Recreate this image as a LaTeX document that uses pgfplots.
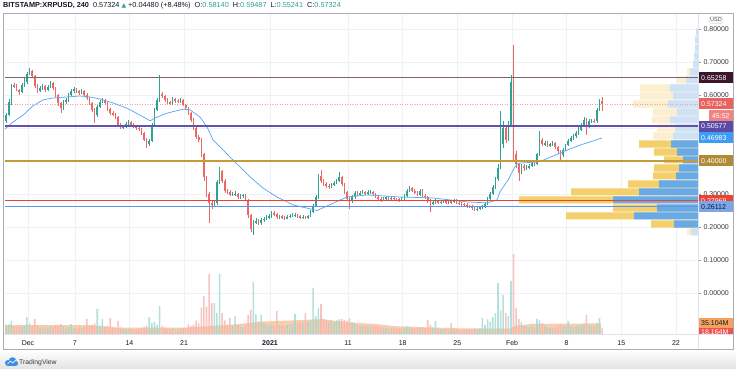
\documentclass[border=0pt]{standalone}
\usepackage{fontspec}
\setmainfont{Liberation Sans}
\newfontfamily\dejavu{DejaVu Sans}
\usepackage{pgfplots}
\usepackage{pgfplotstable}
\pgfplotsset{compat=1.18}
\definecolor{upc}{HTML}{2FA294}
\definecolor{dnc}{HTML}{EB6864}
\definecolor{volup}{HTML}{9ED6CF}
\definecolor{voldn}{HTML}{F6B0AC}
\definecolor{volma}{HTML}{F7C6A2}
\definecolor{gridc}{HTML}{F0F1F4}
\definecolor{hdr}{HTML}{131722}
\definecolor{tickc}{HTML}{9598A1}
\definecolor{mac}{HTML}{5EA8F0}
\definecolor{lmaroon}{HTML}{7E6272}
\definecolor{bmaroon}{HTML}{3C1528}
\definecolor{lpurple}{HTML}{6252B0}
\definecolor{bpurple}{HTML}{5B4BA6}
\definecolor{lgold}{HTML}{C49B3A}
\definecolor{lred}{HTML}{F0402F}
\definecolor{lblue}{HTML}{5D93E8}
\definecolor{bblue}{HTML}{7AA6EC}
\definecolor{bma}{HTML}{3D9CF4}
\definecolor{bcur}{HTML}{E8625E}
\definecolor{btime}{HTML}{F08484}
\definecolor{curl}{HTML}{F3A0A0}
\definecolor{dyel}{HTML}{F4D06C}
\definecolor{lyel}{HTML}{FCEFCF}
\definecolor{dblu}{HTML}{68A9E8}
\definecolor{lblu}{HTML}{CDE2F7}
\definecolor{bvol}{HTML}{F4A25F}
\definecolor{bvol2}{HTML}{EF5350}
\definecolor{frame}{HTML}{A9ACB3}
\definecolor{sep}{HTML}{E0E3EB}
\definecolor{tvblue}{HTML}{3A8EE6}

\pgfplotstableread{
o h l c v
0.520 0.546 0.514 0.540 30
0.540 0.588 0.536 0.580 32
0.580 0.634 0.571 0.630 43
0.630 0.636 0.620 0.625 25
0.625 0.633 0.611 0.615 22
0.615 0.619 0.601 0.610 28
0.610 0.636 0.605 0.630 24
0.630 0.650 0.624 0.640 30
0.640 0.670 0.634 0.665 56
0.665 0.682 0.660 0.672 35
0.672 0.676 0.652 0.658 27
0.658 0.661 0.620 0.628 50
0.628 0.633 0.606 0.612 29
0.612 0.628 0.608 0.620 20
0.620 0.632 0.614 0.626 18
0.626 0.630 0.609 0.615 24
0.615 0.631 0.611 0.624 21
0.624 0.641 0.620 0.636 26
0.636 0.640 0.615 0.620 23
0.620 0.624 0.594 0.600 30
0.600 0.604 0.568 0.575 28
0.575 0.580 0.545 0.560 33
0.560 0.586 0.556 0.580 25
0.580 0.592 0.574 0.584 18
0.584 0.606 0.579 0.600 22
0.600 0.618 0.596 0.612 33
0.612 0.625 0.607 0.618 20
0.618 0.622 0.606 0.612 17
0.612 0.616 0.600 0.606 22
0.606 0.619 0.602 0.612 19
0.612 0.615 0.595 0.600 24
0.600 0.605 0.584 0.590 50
0.590 0.594 0.570 0.575 27
0.575 0.579 0.548 0.555 30
0.555 0.560 0.515 0.538 35
0.538 0.570 0.533 0.565 83
0.565 0.586 0.561 0.580 28
0.580 0.592 0.576 0.585 50
0.585 0.589 0.570 0.575 24
0.575 0.578 0.553 0.558 26
0.558 0.562 0.540 0.545 53
0.545 0.550 0.535 0.540 22
0.540 0.544 0.527 0.532 20
0.532 0.535 0.505 0.510 43
0.510 0.514 0.496 0.502 22
0.502 0.509 0.497 0.504 15
0.504 0.517 0.500 0.512 14
0.512 0.523 0.508 0.518 16
0.518 0.521 0.505 0.510 18
0.510 0.514 0.501 0.506 13
0.506 0.510 0.495 0.500 16
0.500 0.504 0.491 0.497 15
0.497 0.500 0.480 0.485 20
0.485 0.488 0.460 0.465 24
0.465 0.470 0.440 0.450 28
0.450 0.468 0.446 0.462 56
0.462 0.515 0.458 0.510 36
0.510 0.560 0.506 0.555 40
0.555 0.590 0.550 0.585 30
0.585 0.660 0.580 0.604 92
0.604 0.610 0.590 0.596 28
0.596 0.600 0.580 0.585 22
0.585 0.590 0.572 0.578 18
0.578 0.583 0.569 0.575 16
0.575 0.594 0.571 0.588 20
0.588 0.592 0.577 0.582 15
0.582 0.587 0.575 0.580 14
0.580 0.591 0.576 0.585 17
0.585 0.589 0.566 0.570 19
0.570 0.574 0.555 0.560 21
0.560 0.564 0.540 0.545 33
0.545 0.548 0.519 0.525 26
0.525 0.530 0.494 0.500 30
0.500 0.505 0.466 0.472 43
0.472 0.480 0.458 0.465 35
0.465 0.470 0.412 0.420 86
0.420 0.425 0.340 0.350 125
0.350 0.356 0.290 0.300 90
0.300 0.306 0.212 0.272 198
0.272 0.282 0.255 0.268 102
0.268 0.280 0.262 0.272 102
0.272 0.342 0.268 0.335 70
0.335 0.382 0.330 0.370 198
0.370 0.374 0.334 0.340 69
0.340 0.345 0.304 0.310 45
0.310 0.316 0.300 0.306 30
0.306 0.311 0.293 0.298 53
0.298 0.306 0.293 0.300 28
0.300 0.308 0.294 0.300 59
0.300 0.304 0.285 0.290 30
0.290 0.300 0.286 0.295 25
0.295 0.301 0.289 0.296 22
0.296 0.300 0.278 0.282 30
0.282 0.286 0.228 0.235 63
0.235 0.240 0.186 0.195 79
0.195 0.221 0.176 0.215 172
0.215 0.226 0.209 0.218 66
0.218 0.224 0.206 0.212 40
0.212 0.228 0.207 0.222 63
0.222 0.231 0.216 0.225 35
0.225 0.236 0.220 0.230 30
0.230 0.238 0.225 0.232 28
0.232 0.248 0.228 0.242 32
0.242 0.247 0.233 0.238 27
0.238 0.243 0.225 0.230 76
0.230 0.237 0.225 0.232 30
0.232 0.236 0.223 0.228 28
0.228 0.233 0.222 0.227 26
0.227 0.235 0.223 0.230 29
0.230 0.239 0.226 0.234 31
0.234 0.241 0.230 0.236 34
0.236 0.242 0.231 0.236 66
0.236 0.240 0.228 0.233 36
0.233 0.237 0.225 0.230 38
0.230 0.235 0.224 0.230 35
0.230 0.234 0.223 0.228 69
0.228 0.237 0.224 0.232 40
0.232 0.250 0.229 0.245 45
0.245 0.270 0.241 0.265 152
0.265 0.296 0.262 0.290 60
0.290 0.362 0.286 0.355 86
0.355 0.373 0.334 0.340 99
0.340 0.346 0.324 0.330 50
0.330 0.336 0.319 0.325 44
0.325 0.331 0.316 0.322 42
0.322 0.334 0.318 0.328 46
0.328 0.339 0.323 0.333 40
0.333 0.346 0.329 0.340 45
0.340 0.367 0.336 0.352 48
0.352 0.356 0.325 0.330 50
0.330 0.334 0.299 0.305 46
0.305 0.309 0.278 0.285 44
0.285 0.290 0.255 0.278 52
0.278 0.296 0.273 0.290 38
0.290 0.308 0.286 0.303 35
0.303 0.308 0.293 0.298 30
0.298 0.309 0.294 0.303 28
0.303 0.312 0.299 0.306 27
0.306 0.310 0.297 0.302 29
0.302 0.311 0.298 0.305 25
0.305 0.312 0.301 0.306 26
0.306 0.310 0.296 0.300 24
0.300 0.304 0.287 0.292 27
0.292 0.296 0.280 0.285 25
0.285 0.290 0.277 0.282 22
0.282 0.292 0.278 0.287 20
0.287 0.295 0.283 0.290 21
0.290 0.294 0.281 0.286 18
0.286 0.293 0.282 0.288 19
0.288 0.292 0.280 0.285 17
0.285 0.289 0.278 0.283 20
0.283 0.288 0.277 0.282 18
0.282 0.290 0.278 0.285 16
0.285 0.300 0.281 0.295 22
0.295 0.315 0.291 0.310 25
0.310 0.324 0.305 0.318 24
0.318 0.322 0.305 0.310 20
0.310 0.315 0.300 0.305 18
0.305 0.309 0.293 0.298 19
0.298 0.315 0.294 0.310 21
0.310 0.314 0.290 0.295 22
0.295 0.299 0.285 0.290 20
0.290 0.294 0.274 0.280 46
0.280 0.285 0.245 0.273 30
0.273 0.281 0.268 0.275 22
0.275 0.284 0.271 0.278 43
0.278 0.283 0.271 0.276 18
0.276 0.281 0.271 0.276 16
0.276 0.283 0.272 0.278 15
0.278 0.282 0.270 0.275 16
0.275 0.282 0.271 0.277 14
0.277 0.281 0.271 0.276 36
0.276 0.285 0.272 0.280 17
0.280 0.284 0.269 0.274 15
0.274 0.279 0.268 0.272 14
0.272 0.276 0.265 0.270 13
0.270 0.274 0.263 0.268 14
0.268 0.272 0.259 0.264 16
0.264 0.268 0.257 0.262 15
0.262 0.266 0.253 0.258 17
0.258 0.262 0.247 0.252 18
0.252 0.260 0.248 0.255 16
0.255 0.265 0.251 0.260 19
0.260 0.268 0.256 0.263 53
0.263 0.276 0.259 0.270 30
0.270 0.290 0.266 0.285 50
0.285 0.306 0.281 0.300 40
0.300 0.326 0.296 0.320 56
0.320 0.352 0.316 0.345 69
0.345 0.390 0.340 0.380 168
0.380 0.550 0.375 0.450 80
0.450 0.520 0.440 0.500 129
0.500 0.510 0.455 0.465 69
0.465 0.520 0.460 0.510 60
0.510 0.660 0.505 0.640 175
0.640 0.752 0.400 0.420 264
0.420 0.430 0.380 0.390 86
0.390 0.395 0.340 0.365 50
0.365 0.392 0.360 0.385 40
0.385 0.390 0.370 0.378 28
0.378 0.387 0.372 0.380 24
0.380 0.392 0.375 0.386 22
0.386 0.401 0.381 0.395 25
0.395 0.400 0.386 0.392 20
0.392 0.425 0.388 0.420 50
0.420 0.490 0.416 0.465 45
0.465 0.470 0.444 0.450 35
0.450 0.462 0.445 0.455 28
0.455 0.460 0.442 0.448 22
0.448 0.456 0.443 0.450 20
0.450 0.461 0.446 0.455 19
0.455 0.459 0.437 0.442 21
0.442 0.446 0.424 0.430 24
0.430 0.434 0.400 0.418 30
0.418 0.438 0.413 0.433 26
0.433 0.453 0.429 0.448 25
0.448 0.468 0.444 0.462 43
0.462 0.476 0.457 0.470 24
0.470 0.482 0.465 0.475 22
0.475 0.491 0.470 0.485 26
0.485 0.502 0.480 0.495 28
0.495 0.516 0.490 0.510 30
0.510 0.532 0.505 0.525 34
0.525 0.530 0.480 0.505 63
0.505 0.526 0.500 0.520 30
0.520 0.528 0.515 0.522 26
0.522 0.527 0.514 0.520 25
0.520 0.561 0.516 0.555 35
0.555 0.588 0.551 0.5814 53
0.5814 0.59487 0.55241 0.57324 18.164
}\candles

\pgfplotsset{base/.style={scale only axis, width=693pt, height=321pt,
  at={(5pt,35pt)}, anchor=south west, xmin=-2.946, xmax=85.82},
  candle/.style 2 args={draw=none, mark=none, forget plot,
  error bars/y dir=both, error bars/y explicit, error bars/error mark=none,
  error bars/error bar style={draw=#1, line width=#2}}}
\tikzset{pbox/.style={anchor=west, minimum height=11pt, text width=29pt,
  inner xsep=3pt, inner ysep=0pt, font=\fontsize{7}{8}\selectfont, text=white, align=left}}

\begin{document}
\begin{tikzpicture}[x=1pt,y=1pt]
\useasboundingbox (0,0) rectangle (736,369);
\fill[white] (0,0) rectangle (736,369);
\shade[top color=white, bottom color=black!11] (0,0) rectangle (736,19);

% grid
\begin{axis}[base, ymin=-0.12424, ymax=0.84848,
  xtick={0,6,13,20,31,41,48,55,62,69,76,83},
  ytick={0,0.1,0.2,0.3,0.4,0.5,0.6,0.7,0.8},
  grid=major, grid style={draw=gridc, line width=0.6pt},
  xticklabels={}, yticklabels={}, axis line style={draw=none}, major tick length=0pt]
\addplot[draw=none] coordinates {(0,0)};
\end{axis}

% volume
\begin{axis}[base, ymin=0, ymax=1060, hide axis, clip mode=individual]
\addplot[fill=volma, draw=none, fill opacity=0.85] coordinates {
(-2.95,29) (2,29) (8.07,29) (10,25) (11.53,21) (15,21) (20.24,21) (23,26)
(26.77,32) (29.84,41) (34,45) (37.66,49) (39.45,43) (42,37) (44.45,33)
(47.01,26) (51,22) (55.08,19) (58,18) (61.74,17.5) (62.25,26) (64.3,33)
(68,34) (73.4,35.104)} \closedcycle;
\addplot[ybar, bar width=0.2, bar shift=0pt, draw=none, fill=volup, fill opacity=0.75,
  restrict expr to domain={\thisrow{c}-\thisrow{o}}{0:1}]
  table[x expr=-2.8+\coordindex/3, y=v]{\candles};
\addplot[ybar, bar width=0.2, bar shift=0pt, draw=none, fill=voldn, fill opacity=0.75,
  restrict expr to domain={\thisrow{c}-\thisrow{o}}{-1:-0.0000001}]
  table[x expr=-2.8+\coordindex/3, y=v]{\candles};
\begin{scope}
\clip (axis cs:85.82,0) rectangle (axis cs:95,1060);
\node[pbox, minimum height=9.5pt, fill=bvol2, yshift=-4pt] at (axis cs:85.82,18.164) {18.164M};
\end{scope}
\node[pbox, minimum height=10pt, fill=bvol, text=hdr] at (axis cs:85.82,35.104) {35.104M};
\end{axis}

% volume profile
\begin{axis}[base, xmin=0, xmax=693, x dir=reverse, ymin=-0.12424, ymax=0.84848, hide axis]
\addplot[xbar, bar width=0.0215, bar shift=0pt, draw=none, fill=lyel] coordinates {
(11,0.1850) (45,0.4759) (41,0.5001) (46,0.5244) (45,0.5486) (65,0.5728)
(58,0.5971) (58,0.6213) (21,0.6456) (11,0.6698)};
\addplot[xbar, bar width=0.0215, bar shift=0pt, draw=none, fill=dyel] coordinates {
(47,0.2092) (132,0.2335) (85,0.2577) (179,0.2820) (127,0.3062) (70,0.3304)
(45,0.3547) (44,0.3789) (34,0.4032) (44,0.4274) (59,0.4516)};
\addplot[xbar, bar width=0.0215, bar shift=0pt, draw=none, fill=dblu] coordinates {
(24,0.2092) (64,0.2335) (41,0.2577) (85,0.2820) (59,0.3062) (39,0.3304)
(22,0.3547) (19,0.3789) (15,0.4032) (21,0.4274) (27,0.4516)};
\addplot[xbar, bar width=0.0215, bar shift=0pt, draw=none, fill=lblu] coordinates {
(7,0.1850) (25,0.4759) (23,0.5001) (28,0.5244) (21,0.5486) (30,0.5728)
(25,0.5971) (28,0.6213) (12,0.6456) (8,0.6698) (5,0.6940) (4,0.7183)
(3,0.7425) (3,0.7668) (2,0.7910)};
\end{axis}

% price pane
\begin{axis}[base, ymin=-0.12424, ymax=0.84848, clip mode=individual,
  axis line style={draw=none},
  xtick={0,6,13,20,31,41,48,55,62,69,76,83},
  xticklabels={Dec,7,14,21,\textbf{2021},11,18,25,Feb,8,15,22},
  x tick style={draw=none},
  xticklabel style={font=\fontsize{7}{8}\selectfont, text=hdr},
  ytick={0,0.1,0.2,0.3,0.6,0.7,0.8},
  ytick pos=right, yticklabel pos=right, tick align=outside,
  major tick length=3pt,
  y tick style={draw=tickc, line width=0.4pt},
  yticklabel style={font=\fontsize{7}{8}\selectfont, text=hdr!85, anchor=west, xshift=-1pt,
    /pgf/number format/.cd, fixed, fixed zerofill, precision=5, assume math mode=true}]
% current price dotted
\addplot[curl, line width=0.6pt, dash pattern=on 1pt off 1.5pt] coordinates {(-3,0.57324) (86,0.57324)};
% candles up
\addplot[restrict expr to domain={\thisrow{c}-\thisrow{o}}{0:1}, candle={upc}{0.45pt}]
  table[x expr=-2.8+\coordindex/3, y expr=(\thisrow{h}+\thisrow{l})/2,
        y error expr=(\thisrow{h}-\thisrow{l})/2]{\candles};
\addplot[restrict expr to domain={\thisrow{c}-\thisrow{o}}{0:1}, candle={upc}{1.6pt}]
  table[x expr=-2.8+\coordindex/3, y expr=(\thisrow{o}+\thisrow{c})/2,
        y error expr={max(abs(\thisrow{c}-\thisrow{o})/2,0.0012)}]{\candles};
% candles down
\addplot[restrict expr to domain={\thisrow{c}-\thisrow{o}}{-1:-0.0000001}, candle={dnc}{0.45pt}]
  table[x expr=-2.8+\coordindex/3, y expr=(\thisrow{h}+\thisrow{l})/2,
        y error expr=(\thisrow{h}-\thisrow{l})/2]{\candles};
\addplot[restrict expr to domain={\thisrow{c}-\thisrow{o}}{-1:-0.0000001}, candle={dnc}{1.6pt}]
  table[x expr=-2.8+\coordindex/3, y expr=(\thisrow{o}+\thisrow{c})/2,
        y error expr={max(abs(\thisrow{c}-\thisrow{o})/2,0.0012)}]{\candles};
% moving average
\addplot[mac, line width=0.75pt] coordinates {
(-2.95,0.497) (-1.92,0.518) (-0.64,0.539) (0.64,0.567) (1.92,0.585) (3.20,0.591)
(5.00,0.594) (6.66,0.597) (7.94,0.594) (9.22,0.588) (10.89,0.576) (12.68,0.560)
(14.35,0.539) (15.63,0.522) (16.52,0.533) (17.80,0.545) (19.85,0.557) (20.75,0.555)
(22.03,0.533) (22.93,0.503) (23.70,0.464) (24.59,0.443) (25.87,0.412) (27.16,0.382)
(28.44,0.352) (30.10,0.318) (31.89,0.291) (33.94,0.267) (36.12,0.255) (37.02,0.250)
(39.07,0.272) (40.86,0.291) (43.42,0.297) (47.65,0.291) (51.88,0.288) (56.23,0.276)
(58.79,0.273) (60.07,0.282) (60.46,0.307) (61.48,0.342) (62.38,0.383) (62.76,0.393)
(65.58,0.398) (68.53,0.428) (70.71,0.448) (73.52,0.4698)};
% horizontal levels
\addplot[lmaroon, line width=1.6pt] coordinates {(-3,0.65258) (86,0.65258)};
\addplot[lpurple, line width=1.6pt] coordinates {(-3,0.50577) (86,0.50577)};
\addplot[lgold, line width=1.2pt] coordinates {(-3,0.40000) (86,0.40000)};
\addplot[lred, line width=1.4pt] coordinates {(-3,0.27969) (86,0.27969)};
\addplot[lblue, line width=1.1pt] coordinates {(-3,0.26112) (86,0.26112)};
% price boxes
\node[pbox, fill=bmaroon] at (axis cs:85.82,0.65258) {0.65258};
\node[pbox, fill=bcur] at (axis cs:85.82,0.57324) {0.57324};
\node[anchor=east, minimum height=11pt, text width=20pt, inner xsep=2pt, inner ysep=0pt,
  font=\fontsize{7}{8}\selectfont, text=white, align=center, fill=btime, xshift=35pt]
  at (axis cs:85.82,0.5365) {45:52};
\node[pbox, fill=bpurple] at (axis cs:85.82,0.50577) {0.50577};
\node[pbox, fill=bma] at (axis cs:85.82,0.46983) {0.46983};
\node[pbox, fill=lgold!90!black] at (axis cs:85.82,0.40000) {0.40000};
\node[pbox, fill=lred] at (axis cs:85.82,0.27969) {0.27969};
\node[pbox, fill=bblue, text=hdr] at (axis cs:85.82,0.26112) {0.26112};
\end{axis}

% frame
\draw[sep, line width=0.6pt] (698,20) -- (698,356);
\draw[sep, line width=0.6pt] (3,35) -- (733,35);
\draw[frame, line width=0.9pt] (3,20) rectangle (733,356);
\node[draw=black!25, rounded corners=1.5pt, font=\fontsize{5.5}{6}\selectfont, text=black!70,
  inner sep=1.2pt] at (716,349) {USD};

% header
\node[anchor=west, inner sep=0pt, font=\fontsize{7.3}{9}\selectfont, text=hdr] at (3,363)
 {\textbf{BITSTAMP:XRPUSD, 240}\ \ 0.57324 \textcolor{upc}{\dejavu\fontsize{6}{7}\selectfont ▲} +0.04480 (+8.48\%)\ \ O:\textcolor{upc}{0.58140}\ \ H:\textcolor{upc}{0.59487}\ \ L:\textcolor{upc}{0.55241}\ \ C:\textcolor{upc}{0.57324}};

% logo
\fill[tvblue] (8,6) circle (3) (12.5,8) circle (3.8) (15.5,5.6) circle (2.6);
\fill[tvblue] (8,3) rectangle (15.5,6);
\draw[white, line width=0.7pt] (7.5,5) -- (10.5,8) -- (12.5,6) -- (16,9);
\node[anchor=west, inner sep=0pt, font=\fontsize{6.8}{8}\selectfont, text=hdr!85] at (19,6.5) {TradingView};
\end{tikzpicture}
\end{document}
